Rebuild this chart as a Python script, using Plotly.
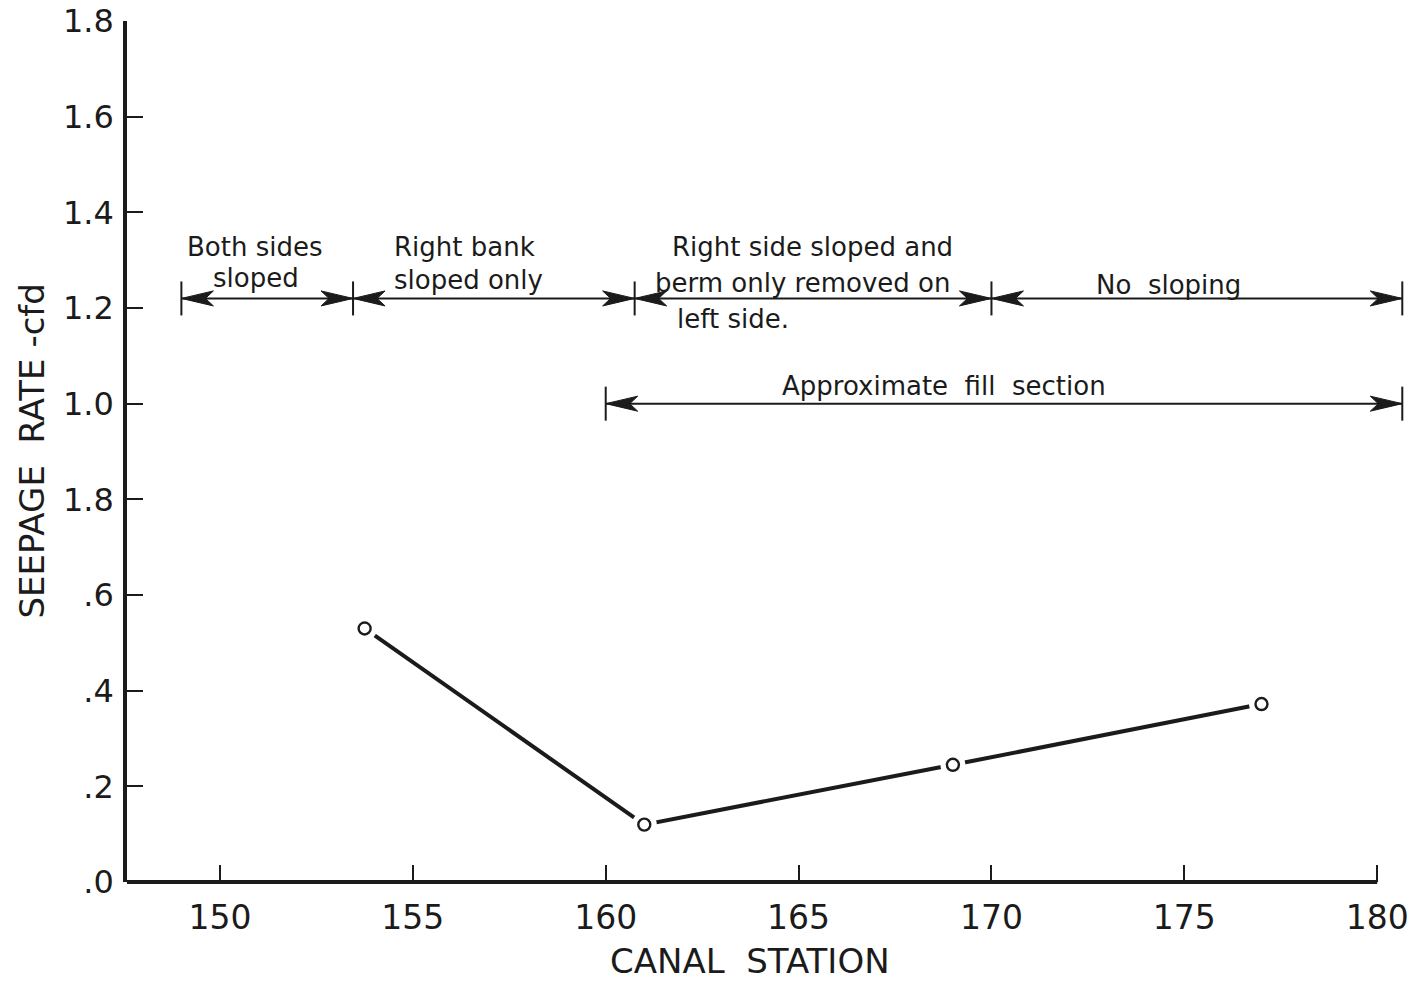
import plotly.graph_objects as go

# Measured seepage along the canal
station = [153.75, 161.0, 169.0, 177.0]
seepage = [0.53, 0.12, 0.245, 0.372]

# Axis ticks (the 0.8 gridline carries the "1.8" label printed on the original sheet)
x_ticks = [150, 155, 160, 165, 170, 175, 180]
y_ticks = [0.0, 0.2, 0.4, 0.6, 0.8, 1.0, 1.2, 1.4, 1.6, 1.8]
y_tick_labels = [".0", ".2", ".4", ".6", "1.8", "1.0", "1.2", "1.4", "1.6", "1.8"]

# Treatment reaches (upper dimension row) and the fill section (lower row)
reach_bounds = [149.0, 153.45, 160.75, 170.0, 180.65]
reach_level = 1.22
fill_bounds = [160.0, 180.65]
fill_level = 1.0

INK = "#1b1b1b"
FONT = "DejaVu Sans"
X_RANGE = [147.59, 180.85]
Y_RANGE = [0.0, 1.8]

fig = go.Figure()

# connecting line, a white halo round each station, then the open circles
fig.add_trace(go.Scatter(x=station, y=seepage, mode="lines",
                         line=dict(color=INK, width=4), hoverinfo="skip"))
fig.add_trace(go.Scatter(x=station, y=seepage, mode="markers",
                         marker=dict(size=25, color="white", line=dict(width=0)),
                         hoverinfo="skip"))
fig.add_trace(go.Scatter(x=station, y=seepage, mode="markers",
                         marker=dict(size=12, color="white", symbol="circle",
                                     line=dict(color=INK, width=2.4))))

shapes = []


def dimension_row(bounds, level):
    """Double-headed dimension arrows between consecutive bounds."""
    for left, right in zip(bounds[:-1], bounds[1:]):
        shapes.append(dict(type="line", xref="x", yref="y", x0=left, x1=right,
                           y0=level, y1=level, line=dict(color=INK, width=2)))
        # arrowhead pointing left at the left bound
        shapes.append(dict(type="path", xref="x", yref="y",
                           xsizemode="pixel", xanchor=left,
                           ysizemode="pixel", yanchor=level,
                           path="M0,0 L32,7.5 L24,0 L32,-7.5 Z",
                           fillcolor=INK, line=dict(color=INK, width=1)))
        # arrowhead pointing right at the right bound
        shapes.append(dict(type="path", xref="x", yref="y",
                           xsizemode="pixel", xanchor=right,
                           ysizemode="pixel", yanchor=level,
                           path="M0,0 L-32,7.5 L-24,0 L-32,-7.5 Z",
                           fillcolor=INK, line=dict(color=INK, width=1)))
    for b in bounds:
        shapes.append(dict(type="line", xref="x", yref="y", x0=b, x1=b,
                           ysizemode="pixel", yanchor=level, y0=-17, y1=17,
                           line=dict(color=INK, width=2)))


dimension_row(reach_bounds, reach_level)
dimension_row(fill_bounds, fill_level)

# bottom axis line, stopping at the last station tick
shapes.append(dict(type="line", xref="x", yref="paper", x0=X_RANGE[0], x1=x_ticks[-1],
                   y0=0, y1=0, line=dict(color=INK, width=4)))

label_font = dict(family=FONT, size=26, color=INK)
annotations = [
    dict(text="Both sides", x=150.91, y=1.327, xanchor="center"),
    dict(text="sloped", x=150.93, y=1.262, xanchor="center"),
    dict(text="Right bank", x=154.46, y=1.327, xanchor="left"),
    dict(text="sloped only", x=154.46, y=1.258, xanchor="left"),
    dict(text="Right side sloped and", x=161.67, y=1.327, xanchor="left"),
    dict(text="berm only removed on", x=161.23, y=1.253, xanchor="left"),
    dict(text="left side.", x=161.80, y=1.176, xanchor="left"),
    dict(text="No  sloping", x=174.60, y=1.249, xanchor="center"),
    dict(text="Approximate  fill  section", x=168.77, y=1.037, xanchor="center"),
]
for a in annotations:
    a.update(xref="x", yref="y", yanchor="middle", showarrow=False, font=label_font)

# axis titles
annotations.append(dict(text="CANAL  STATION", xref="paper", yref="paper",
                        x=(750 - 127) / (1410 - 127), y=-(961 - 882) / (882 - 19),
                        xanchor="center", yanchor="middle", showarrow=False,
                        font=dict(family=FONT, size=34, color=INK)))
annotations.append(dict(text="SEEPAGE  RATE -cfd", xref="paper", yref="paper",
                        x=-(127 - 31) / (1410 - 127), y=0.5, textangle=-90,
                        xanchor="center", yanchor="middle", showarrow=False,
                        font=dict(family=FONT, size=34, color=INK)))

fig.update_layout(
    width=1412, height=982,
    margin=dict(l=127, r=2, t=19, b=100),
    paper_bgcolor="white", plot_bgcolor="white",
    showlegend=False,
    shapes=shapes,
    annotations=annotations,
    xaxis=dict(range=X_RANGE, tickmode="array", tickvals=x_ticks,
               ticktext=[str(t) for t in x_ticks],
               ticks="inside", ticklen=17, tickwidth=2, tickcolor=INK,
               showline=False, showgrid=False, zeroline=False,
               tickfont=dict(family=FONT, size=33, color=INK),
               ticklabelstandoff=13),
    yaxis=dict(range=Y_RANGE, tickmode="array", tickvals=y_ticks,
               ticktext=y_tick_labels,
               ticks="inside", ticklen=16, tickwidth=2, tickcolor=INK,
               showline=True, linewidth=3.5, linecolor=INK,
               showgrid=False, zeroline=False,
               tickfont=dict(family=FONT, size=32, color=INK),
               ticklabelstandoff=3),
)

fig.write_html("out.html")
